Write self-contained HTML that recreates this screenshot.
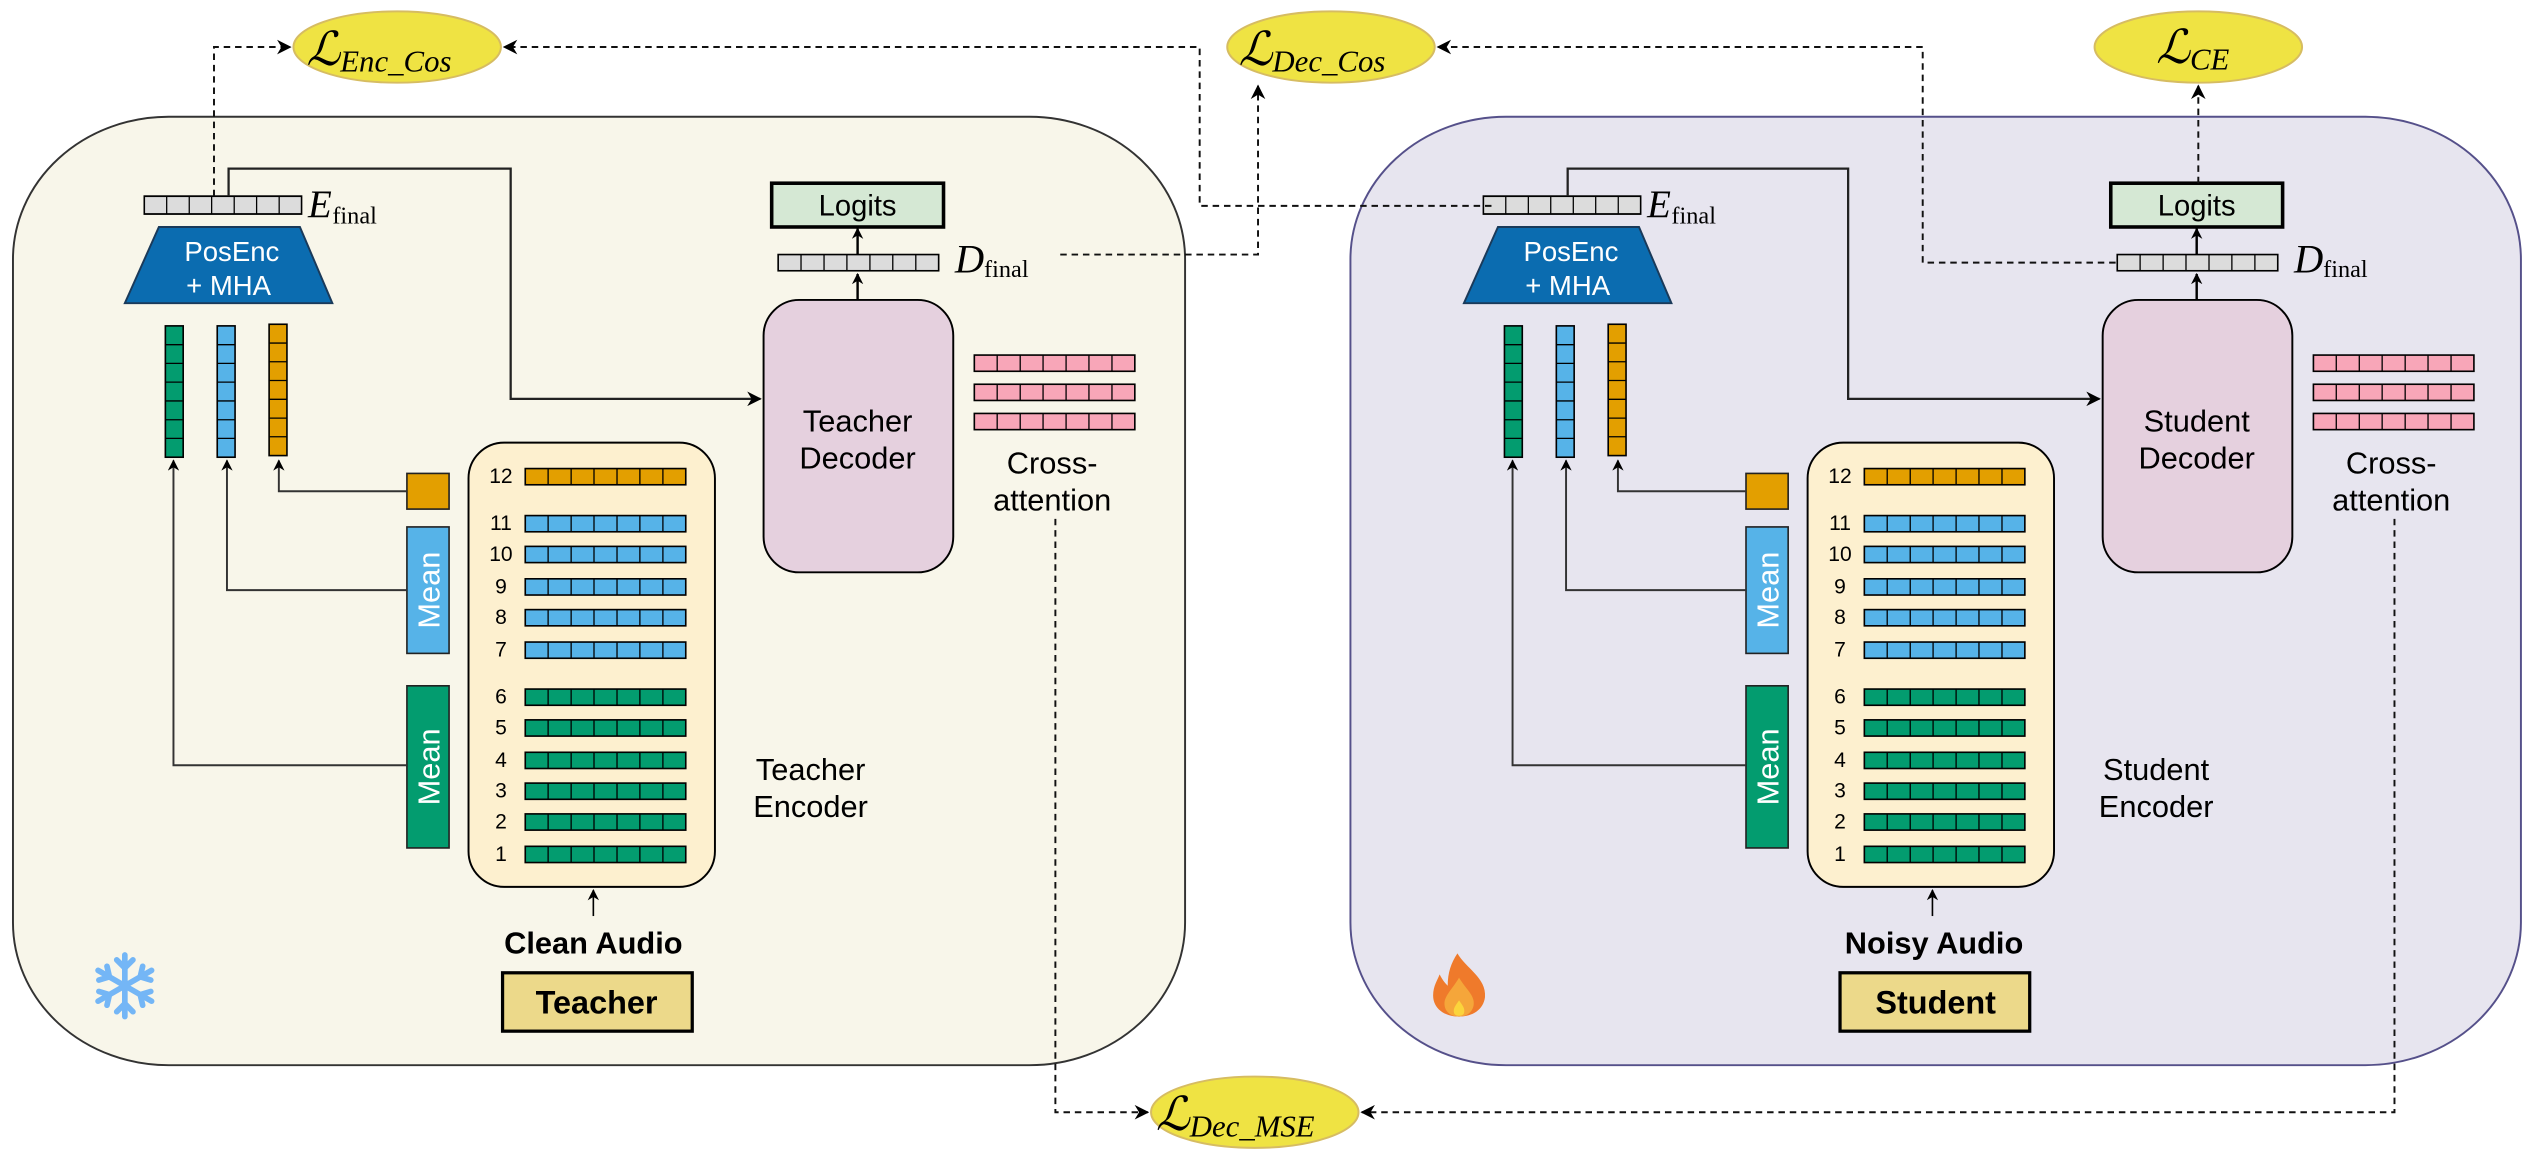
<!DOCTYPE html>
<html><head><meta charset="utf-8"><style>
html,body{margin:0;padding:0;background:#fff;}
svg{display:block}
text{font-family:"Liberation Sans",Arial,sans-serif;}
text.m, .m text, .m tspan{font-family:"Liberation Serif","DejaVu Serif",serif;font-style:italic;}
text.s{font-family:"Liberation Serif","DejaVu Serif",serif;}
tspan.L{font-family:"DejaVu Serif",serif;font-style:italic;}
</style></head><body>
<svg width="2542" height="1156" viewBox="0 0 1568 713" preserveAspectRatio="none" xmlns="http://www.w3.org/2000/svg">
<defs>
<marker id="a" viewBox="0 0 10 10" refX="9" refY="5" markerWidth="7" markerHeight="7" orient="auto" markerUnits="userSpaceOnUse"><path d="M0,0 L10,5 L0,10 L3,5 z" fill="#000"/></marker>
<marker id="b" viewBox="0 0 10 10" refX="9" refY="5" markerWidth="9" markerHeight="9" orient="auto" markerUnits="userSpaceOnUse"><path d="M0,0 L10,5 L0,10 L3,5 z" fill="#000"/></marker>
<g id="hb"><rect x="0" y="0" width="99" height="10" stroke="#000" stroke-width="1"/><path d="M14.1,0v10M28.3,0v10M42.4,0v10M56.6,0v10M70.7,0v10M84.9,0v10" stroke="#000" stroke-width="0.8"/></g>
<g id="vb"><rect x="0" y="0" width="11" height="81" stroke="#000" stroke-width="1"/><path d="M0,11.6h11M0,23.1h11M0,34.7h11M0,46.3h11M0,57.9h11M0,69.4h11" stroke="#000" stroke-width="0.8"/></g>
<g id="side">
  <use href="#hb" x="0" y="0" fill="#dcdcdc" transform="translate(89,121) scale(0.98,1.1)"/>
  <text class="m" x="190" y="134" font-size="24">E</text><text class="s" x="205" y="138" font-size="15">final</text>
  <path d="M98,140 L185,140 L205,187 L77,187 Z" fill="#0b6cb0" stroke="#1a3a5a" stroke-width="1.2"/>
  <text x="143" y="161" font-size="17" fill="#fff" text-anchor="middle">PosEnc</text>
  <text x="141" y="182" font-size="17" fill="#fff" text-anchor="middle">+ MHA</text>
  <use href="#vb" x="102" y="201" fill="#039c6f"/>
  <use href="#vb" x="134" y="201" fill="#56b3e8"/>
  <use href="#vb" x="166" y="200" fill="#e39f00"/>
  <rect x="251" y="292" width="26" height="22" fill="#e39f00" stroke="#222" stroke-width="1"/>
  <rect x="251" y="325" width="26" height="78" fill="#56b3e8" stroke="#222" stroke-width="1"/>
  <text transform="translate(271,364) rotate(-90)" font-size="19" fill="#fff" text-anchor="middle">Mean</text>
  <rect x="251" y="423" width="26" height="100" fill="#039c6f" stroke="#222" stroke-width="1"/>
  <text transform="translate(271,473) rotate(-90)" font-size="19" fill="#fff" text-anchor="middle">Mean</text>
  <path d="M251,303 H172 V284" fill="none" stroke="#333" stroke-width="1.2" marker-end="url(#a)"/>
  <path d="M251,364 H140 V284" fill="none" stroke="#333" stroke-width="1.2" marker-end="url(#a)"/>
  <path d="M251,472 H107 V284" fill="none" stroke="#333" stroke-width="1.2" marker-end="url(#a)"/>
  <rect x="289" y="273" width="152" height="274" rx="22" ry="22" fill="#fdf0cf" stroke="#000" stroke-width="1.2"/>
  <g font-size="13" text-anchor="middle">
    <use href="#hb" x="324" y="289" fill="#e39f00"/><text x="309" y="298">12</text>
    <use href="#hb" x="324" y="318" fill="#56b3e8"/><text x="309" y="327">11</text>
    <use href="#hb" x="324" y="337" fill="#56b3e8"/><text x="309" y="346">10</text>
    <use href="#hb" x="324" y="357" fill="#56b3e8"/><text x="309" y="366">9</text>
    <use href="#hb" x="324" y="376" fill="#56b3e8"/><text x="309" y="385">8</text>
    <use href="#hb" x="324" y="396" fill="#56b3e8"/><text x="309" y="405">7</text>
    <use href="#hb" x="324" y="425" fill="#039c6f"/><text x="309" y="434">6</text>
    <use href="#hb" x="324" y="444" fill="#039c6f"/><text x="309" y="453">5</text>
    <use href="#hb" x="324" y="464" fill="#039c6f"/><text x="309" y="473">4</text>
    <use href="#hb" x="324" y="483" fill="#039c6f"/><text x="309" y="492">3</text>
    <use href="#hb" x="324" y="502" fill="#039c6f"/><text x="309" y="511">2</text>
    <use href="#hb" x="324" y="522" fill="#039c6f"/><text x="309" y="531">1</text>
  </g>
  <path d="M366,565 V549" stroke="#000" stroke-width="1" marker-end="url(#a)"/>
  <rect x="471" y="185" width="117" height="168" rx="22" ry="22" fill="#e5d0de" stroke="#000" stroke-width="1.2"/>
  <use href="#hb" x="480" y="157" fill="#dcdcdc"/>
  <path d="M529,185 V169" stroke="#000" stroke-width="1.5" marker-end="url(#a)"/>
  <path d="M529,157 V141" stroke="#000" stroke-width="1.5" marker-end="url(#a)"/>
  <rect x="476" y="113" width="106" height="27" fill="#d5e8d4" stroke="#000" stroke-width="2.2"/>
  <text x="529" y="133" font-size="18" text-anchor="middle">Logits</text>
  <text class="m" x="589" y="168" font-size="25">D</text><text class="s" x="607" y="171" font-size="15">final</text>
  <use href="#hb" x="601" y="219" fill="#f8a6b8"/>
  <use href="#hb" x="601" y="237" fill="#f8a6b8"/>
  <use href="#hb" x="601" y="255" fill="#f8a6b8"/>
  <text x="649" y="292" font-size="19" text-anchor="middle">Cross-</text>
  <text x="649" y="315" font-size="19" text-anchor="middle">attention</text>
</g>
</defs>

<rect x="8" y="72" width="723" height="585" rx="96" ry="88" fill="#f8f6ea" stroke="#333" stroke-width="1.2"/>
<rect x="833" y="72" width="722" height="585" rx="96" ry="88" fill="#e7e5ef" stroke="#55508a" stroke-width="1.2"/>

<use href="#side"/>
<use href="#side" x="826"/>

<g font-size="19" text-anchor="middle">
<text x="529" y="266">Teacher</text><text x="529" y="289">Decoder</text>
<text x="500" y="481">Teacher</text><text x="500" y="504">Encoder</text>
<text x="1355" y="266">Student</text><text x="1355" y="289">Decoder</text>
<text x="1330" y="481">Student</text><text x="1330" y="504">Encoder</text>
</g>
<text x="366" y="588" font-size="19" font-weight="bold" text-anchor="middle">Clean Audio</text>
<rect x="310" y="600" width="117" height="36" fill="#ecd98a" stroke="#000" stroke-width="2"/>
<text x="368" y="625" font-size="20" font-weight="bold" text-anchor="middle">Teacher</text>
<text x="1193" y="588" font-size="19" font-weight="bold" text-anchor="middle">Noisy Audio</text>
<rect x="1135" y="600" width="117" height="36" fill="#ecd98a" stroke="#000" stroke-width="2"/>
<text x="1194" y="625" font-size="20" font-weight="bold" text-anchor="middle">Student</text>

<path d="M141,121 V104 H315 V246 H469" fill="none" stroke="#222" stroke-width="1.4" marker-end="url(#b)"/>
<path d="M967,121 V104 H1140 V246 H1295" fill="none" stroke="#222" stroke-width="1.4" marker-end="url(#b)"/>

<g stroke="#74b6f6" stroke-width="3.5" stroke-linecap="round" fill="none" transform="translate(77,608)">
<path d="M0,-19V19M-16.5,-9.5L16.5,9.5M-16.5,9.5L16.5,-9.5"/>
<path d="M-5,-16L0,-11L5,-16M-5,16L0,11L5,16M-16,-3.5L-9.5,-5.5L-11,-12M16,3.5L9.5,5.5L11,12M-16,3.5L-9.5,5.5L-11,12M16,-3.5L9.5,-5.5L11,-12"/>
</g>
<g transform="translate(900,607)">
<path d="M-1,-19 C4,-10 17,-4 16,8 C15,16 8,20 0,20 C-9,20 -16,15 -16,7 C-16,1 -13,-3 -12,-6 C-10,-2 -8,0 -7,1 C-7,-7 -5,-13 -1,-19 Z" fill="#ef7a2b"/>
<path d="M0,-4 C4,3 10,7 9,13 C8,18 4,20 0,20 C-5,20 -9,17 -9,12 C-9,7 -4,3 0,-4 Z" fill="#f5a63a"/>
<path d="M0,10 C2,13 4,15 3,18 C2,20 -2,20 -3,18 C-4,15 -2,13 0,10 Z" fill="#fbd43c"/>
</g>

<g fill="#efe343" stroke="#d6bc62" stroke-width="1.2">
<ellipse cx="245" cy="29" rx="64" ry="22"/>
<ellipse cx="821" cy="29" rx="64" ry="22"/>
<ellipse cx="1356" cy="29" rx="64" ry="22"/>
<ellipse cx="774" cy="686" rx="64" ry="22"/>
</g>
<g class="m">
<text x="189" y="40"><tspan class="L" font-size="29">ℒ</tspan><tspan font-size="19" dy="4">Enc_Cos</tspan></text>
<text x="764" y="40"><tspan class="L" font-size="29">ℒ</tspan><tspan font-size="19" dy="4">Dec_Cos</tspan></text>
<text x="1330" y="39"><tspan class="L" font-size="29">ℒ</tspan><tspan font-size="19" dy="4">CE</tspan></text>
<text x="713" y="697"><tspan class="L" font-size="29">ℒ</tspan><tspan font-size="19" dy="4">Dec_MSE</tspan></text>
</g>

<g fill="none" stroke="#111" stroke-width="1.2" stroke-dasharray="4,3">
<path d="M132,121 V29 H179" marker-end="url(#b)"/>
<path d="M920,127 H740 V29 H311" marker-end="url(#b)"/>
<path d="M654,157 H776 V53" marker-end="url(#b)"/>
<path d="M1305,162 H1186 V29 H887" marker-end="url(#b)"/>
<path d="M1356,113 V53" marker-end="url(#b)"/>
<path d="M651,320 V686 H708" marker-end="url(#b)"/>
<path d="M1477,320 V686 H840" marker-end="url(#b)"/>
</g>
</svg>
</body></html>
